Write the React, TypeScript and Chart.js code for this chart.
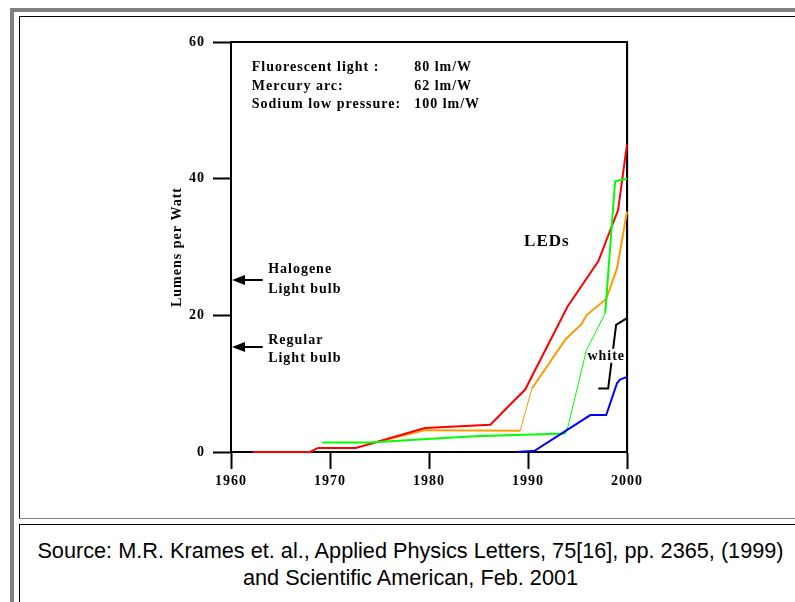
import React, { useEffect, useRef } from "react";
import { Chart, registerables } from "chart.js";

Chart.register(...registerables);

// ---- axis ticks ----
const xTickValues = [1960, 1970, 1980, 1990, 2000];
const yTickValues = [0, 20, 40, 60];

// ---- LED efficacy series (year, lumens per watt) ----
const redYears = [1962.2, 1968.0, 1968.8, 1972.6, 1979.6, 1986.2, 1988.5, 1989.7, 1994.0, 1997.1, 1999.1, 2000];
const redValues = [0, 0, 0.6, 0.6, 3.5, 4.0, 7.4, 9.1, 21.3, 27.9, 35.4, 45];

const orangeYears = [1973.8, 1979.6, 1989.2, 1990.4, 1993.8, 1995.4, 1995.9, 1997.9, 1999.0, 2000];
const orangeValues = [1.1, 3.2, 3.1, 9.3, 16.5, 18.7, 20.0, 22.4, 26.9, 35.2];

const greenYears = [1969.2, 1974.0, 1979.4, 1984.6, 1993.7, 1994.0, 1995.9, 1997.8, 1998.8, 2000];
const greenValues = [1.4, 1.4, 1.85, 2.3, 2.7, 3.5, 14.9, 20.3, 39.6, 40.0];

const blueYears = [1988.9, 1990.7, 1996.3, 1997.9, 1999.0, 1999.3, 2000];
const blueValues = [0, 0.2, 5.4, 5.4, 10.1, 10.6, 11.0];

const whiteYears = [1997.1, 1998.1, 1998.9, 2000];
const whiteValues = [9.3, 9.3, 18.6, 19.6];

// ---- reference light sources ----
const refLabels = ["Fluorescent light :", "Mercury arc:", "Sodium low pressure:"];
const refEfficacy = ["80 lm/W", "62 lm/W", "100 lm/W"];
const bulbNames = [["Halogene", "Light bulb"], ["Regular", "Light bulb"]];
const bulbValues = [25.2, 15.4];

const SERIF = '"Liberation Serif", "Times New Roman", serif';
const SANS = '"Liberation Sans", Arial, sans-serif';

const toPoints = (xs: number[], ys: number[]) => xs.map((x, i) => ({ x, y: ys[i] }));

const annotPlugin = {
  id: "annot",
  beforeUpdate(chart: any) {
    chart.ctx.letterSpacing = "1px";
  },
  beforeDraw(chart: any) {
    chart.ctx.letterSpacing = "1px";
  },
  beforeDatasetsDraw(chart: any) {
    const ctx = chart.ctx;
    const { left, right, top, bottom } = chart.chartArea;
    ctx.save();
    ctx.strokeStyle = "#dcdcdc";
    ctx.lineWidth = 1;
    ctx.beginPath();
    ctx.moveTo(right + 1.5, top);
    ctx.lineTo(right + 1.5, bottom);
    ctx.stroke();
    ctx.strokeStyle = "#000";
    ctx.lineWidth = 2;
    ctx.beginPath();
    ctx.moveTo(left - 1, top);
    ctx.lineTo(right, top);
    ctx.lineTo(right, bottom);
    ctx.stroke();
    ctx.restore();
  },
  afterDatasetsDraw(chart: any) {
    const ctx = chart.ctx;
    const xs = chart.scales.x;
    const ys = chart.scales.y;
    const { left } = chart.chartArea;
    ctx.save();
    ctx.letterSpacing = "1px";
    ctx.fillStyle = "#000";
    ctx.textAlign = "left";
    ctx.textBaseline = "alphabetic";
    ctx.font = `bold 14px ${SERIF}`;
    const refBase = [55.8, 53.0, 50.3];
    refLabels.forEach((t, i) => {
      ctx.fillText(t, xs.getPixelForValue(1962.1), ys.getPixelForValue(refBase[i]));
      ctx.fillText(refEfficacy[i], xs.getPixelForValue(1978.5), ys.getPixelForValue(refBase[i]));
    });
    // bulbs
    const bulbBase = [[26.15, 23.3], [15.75, 13.2]];
    bulbNames.forEach((lines, i) => {
      lines.forEach((t, j) => {
        ctx.fillText(t, xs.getPixelForValue(1963.75), ys.getPixelForValue(bulbBase[i][j]));
      });
      const y = Math.round(ys.getPixelForValue(bulbValues[i]));
      const x0 = left + 1;
      const x1 = xs.getPixelForValue(1963.2);
      ctx.beginPath();
      ctx.moveTo(x0, y);
      ctx.lineTo(x0 + 13, y - 5);
      ctx.lineTo(x0 + 13, y + 5);
      ctx.closePath();
      ctx.fill();
      ctx.fillRect(x0 + 12, y - 1, x1 - x0 - 12, 2);
    });
    // LEDs
    ctx.font = `bold 17px ${SERIF}`;
    ctx.fillText("LEDs", xs.getPixelForValue(1989.6), ys.getPixelForValue(30.15));
    // white
    ctx.font = `bold 14px ${SERIF}`;
    const wx = xs.getPixelForValue(1996.0);
    const wy = ys.getPixelForValue(13.5);
    const w = ctx.measureText("white").width;
    ctx.fillStyle = "#fff";
    ctx.fillRect(wx, wy - 11, w - 1, 14);
    ctx.fillStyle = "#000";
    ctx.fillText("white", wx, wy);
    ctx.restore();
  },
};

function LedChart() {
  const ref = useRef<HTMLCanvasElement | null>(null);
  useEffect(() => {
    if (!ref.current) return;
    const thin = (set: number[]) => (c: any) => (set.includes(c.p0DataIndex) ? 1 : 2);
    const ds = (label: string, xs: number[], ys: number[], color: string, thinIdx: number[] = []) => ({
      label,
      data: toPoints(xs, ys),
      borderColor: color,
      backgroundColor: color,
      borderWidth: 2,
      pointRadius: 0,
      tension: 0,
      fill: false,
      clip: false,
      segment: { borderWidth: thin(thinIdx) },
    });
    const chart = new Chart(ref.current, {
      type: "line",
      data: {
        datasets: [
          ds("blue", blueYears, blueValues, "#0000ff"),
          ds("white", whiteYears, whiteValues, "#000000"),
          ds("green", greenYears, greenValues, "#00ff00", [5, 6]),
          ds("red", redYears, redValues, "#ff0000"),
          ds("orange", orangeYears, orangeValues, "#ff9900", [2]),
        ],
      },
      options: {
        animation: false,
        responsive: true,
        maintainAspectRatio: false,
        events: [],
        layout: { padding: { left: 145, right: 168, top: 25, bottom: 20 } },
        plugins: { legend: { display: false }, tooltip: { enabled: false } },
        scales: {
          x: {
            type: "linear",
            min: 1960,
            max: 2000,
            afterBuildTicks: (s: any) => {
              s.ticks = xTickValues.map((v) => ({ value: v }));
            },
            afterFit: (s: any) => {
              s.height = 45;
            },
            grid: { display: true, drawOnChartArea: false, drawTicks: true, tickLength: 17, tickWidth: 2, tickColor: "#000" },
            border: { display: true, color: "#000", width: 2 },
            ticks: {
              color: "#000",
              padding: 4,
              maxRotation: 0,
              autoSkip: false,
              font: { family: SERIF, size: 14, weight: "bold" },
              callback: (v: any) => String(v),
            },
          },
          y: {
            type: "linear",
            min: 0,
            max: 60,
            afterBuildTicks: (s: any) => {
              s.ticks = yTickValues.map((v) => ({ value: v }));
            },
            afterFit: (s: any) => {
              s.width = 66;
            },
            grid: { display: true, drawOnChartArea: false, drawTicks: true, tickLength: 18, tickWidth: 2, tickColor: "#000" },
            border: { display: true, color: "#000", width: 2 },
            ticks: {
              color: "#000",
              padding: 8,
              font: { family: SERIF, size: 14, weight: "bold" },
              callback: (v: any) => String(v),
            },
            title: {
              display: true,
              text: "Lumens per Watt",
              color: "#000",
              font: { family: SERIF, size: 14, weight: "bold" },
              padding: { top: 4, bottom: 4 },
            },
          },
        },
      },
      plugins: [annotPlugin],
    } as any);
    return () => chart.destroy();
  }, []);
  return (
    <div style={{ position: "absolute", left: 20, top: 17, width: 775, height: 500 }}>
      <canvas ref={ref} />
    </div>
  );
}

export default function App() {
  const abs = (s: React.CSSProperties): React.CSSProperties => ({ position: "absolute", ...s });
  return (
    <div style={abs({ left: 0, top: 0, width: 795, height: 602, overflow: "hidden", background: "#fff" })}>
      <div style={abs({ left: 10, top: 8, width: 785, height: 4, background: "#808080" })} />
      <div style={abs({ left: 10, top: 8, width: 4, height: 594, background: "#808080" })} />
      <div style={abs({ left: 19, top: 16, width: 776, height: 1, background: "#000" })} />
      <div style={abs({ left: 19, top: 16, width: 1, height: 502, background: "#000" })} />
      <div style={abs({ left: 19, top: 518, width: 776, height: 1, background: "#808080" })} />
      <div style={abs({ left: 19, top: 524, width: 776, height: 1, background: "#000" })} />
      <div style={abs({ left: 19, top: 524, width: 1, height: 78, background: "#000" })} />
      <LedChart />
      <div
        style={abs({
          left: 20,
          top: 537,
          width: 781,
          textAlign: "center",
          fontFamily: SANS,
          fontSize: 21.7,
          lineHeight: "27px",
          color: "#000",
          whiteSpace: "nowrap",
        })}
      >
        Source: M.R. Krames et. al., Applied Physics Letters, 75[16], pp. 2365, (1999)
        <br />
        and Scientific American, Feb. 2001
      </div>
    </div>
  );
}
